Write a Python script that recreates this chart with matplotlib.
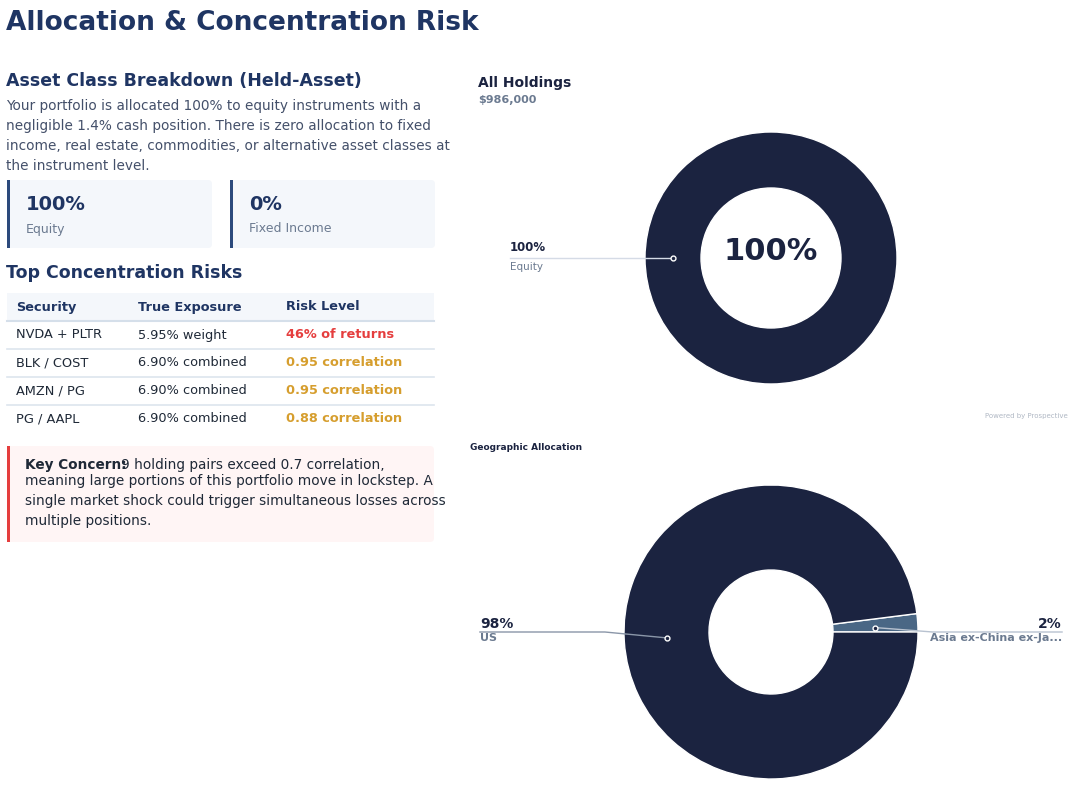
import matplotlib
matplotlib.use('agg')
import matplotlib.pyplot as plt
from matplotlib.patches import FancyBboxPatch, Rectangle

NAVY = '#1b2340'
TITLE = '#1f3563'
GREY = '#6b7a90'
TEXT = '#44506a'

cards = [('100%', 'Equity'), ('0%', 'Fixed Income')]
table_header = ['Security', 'True Exposure', 'Risk Level']
securities = ['NVDA + PLTR', 'BLK / COST', 'AMZN / PG', 'PG / AAPL']
exposures = ['5.95% weight', '6.90% combined', '6.90% combined', '6.90% combined']
risks = ['46% of returns', '0.95 correlation', '0.95 correlation', '0.88 correlation']
risk_colors = ['#e53e3e', '#d69e2e', '#d69e2e', '#d69e2e']
holdings_labels = ['Equity']
holdings_values = [100]
geo_labels = ['Asia ex-China ex-Ja...', 'US']
geo_values = [2, 98]
geo_colors = ['#4a6785', NAVY]

W, H = 1084, 785
fig = plt.figure(figsize=(W / 100, H / 100), dpi=100)
ax = fig.add_axes([0, 0, 1, 1])
ax.set_xlim(0, W)
ax.set_ylim(H, 0)
ax.axis('off')

ax.text(6, 23, 'Allocation & Concentration Risk', fontsize=19, weight='bold', color=TITLE, va='center')
ax.text(6, 81, 'Asset Class Breakdown (Held-Asset)', fontsize=12.5, weight='bold', color=TITLE, va='center')
para = ('Your portfolio is allocated 100% to equity instruments with a\n'
        'negligible 1.4% cash position. There is zero allocation to fixed\n'
        'income, real estate, commodities, or alternative asset classes at\n'
        'the instrument level.')
ax.text(6, 99, para, fontsize=9.8, color=TEXT, va='top', linespacing=1.55)

# metric cards
for i, (val, lab) in enumerate(cards):
    x0 = 7 + i * 223
    ax.add_patch(FancyBboxPatch((x0, 180), 205, 68, boxstyle='round,pad=0,rounding_size=4',
                                fc='#f4f7fb', ec='none'))
    ax.add_patch(Rectangle((x0, 180), 3, 68, fc='#2c4a7c', ec='none'))
    ax.text(x0 + 19, 204, val, fontsize=14, weight='bold', color=TITLE, va='center')
    ax.text(x0 + 19, 229, lab, fontsize=9, color=GREY, va='center')

ax.text(6, 273, 'Top Concentration Risks', fontsize=12.5, weight='bold', color=TITLE, va='center')

# table
colx = [16, 138, 286]
ax.add_patch(Rectangle((7, 293), 427, 28, fc='#f4f7fb', ec='none'))
ax.plot([7, 434], [321, 321], color='#d5dfea', lw=1.5)
for x, h in zip(colx, table_header):
    ax.text(x, 307, h, fontsize=9.3, weight='bold', color=TITLE, va='center')
for r in range(len(securities)):
    y = 335 + r * 28
    ax.text(colx[0], y, securities[r], fontsize=9.3, color='#1f2937', va='center')
    ax.text(colx[1], y, exposures[r], fontsize=9.3, color='#1f2937', va='center')
    ax.text(colx[2], y, risks[r], fontsize=9.3, weight='bold', color=risk_colors[r], va='center')
    if r < len(securities) - 1:
        ax.plot([7, 434], [y + 14, y + 14], color='#dde5ee', lw=1.2)

# key concern box
ax.add_patch(FancyBboxPatch((7, 446), 427, 96, boxstyle='round,pad=0,rounding_size=4',
                            fc='#fff5f5', ec='none'))
ax.add_patch(Rectangle((7, 446), 3, 96, fc='#e53e3e', ec='none'))
ax.text(25, 465, 'Key Concern:', fontsize=9.8, weight='bold', color='#1f2937', va='center')
ax.text(121, 465, '9 holding pairs exceed 0.7 correlation,', fontsize=9.8, color='#1f2937', va='center')
ax.text(25, 474, 'meaning large portions of this portfolio move in lockstep. A\n'
        'single market shock could trigger simultaneous losses across\n'
        'multiple positions.', fontsize=9.8, color='#1f2937', va='top', linespacing=1.55)

# right side headings
ax.text(478, 83, 'All Holdings', fontsize=10, weight='bold', color=NAVY, va='center')
ax.text(478, 100, '$986,000', fontsize=8, weight='bold', color=GREY, va='center')
ax.text(1068, 416, 'Powered by Prospective', fontsize=5, color='#b0b8c4', ha='right', va='center')
ax.text(470, 447, 'Geographic Allocation', fontsize=6.5, weight='bold', color=NAVY, va='center')


def donut_axes(cx, cy, r):
    half = r * 1.0
    return fig.add_axes([(cx - half) / W, 1 - (cy + half) / H, 2 * half / W, 2 * half / H])


# top donut
a1 = donut_axes(771, 258, 126)
a1.pie(holdings_values, colors=[NAVY], radius=1, startangle=90,
       wedgeprops=dict(width=(126 - 70) / 126, ec='white', lw=1))
a1.set_xlim(-1, 1); a1.set_ylim(-1, 1); a1.axis('off')
a1.text(0, 0.05, '100%', fontsize=22, weight='bold', color=NAVY, ha='center', va='center')
a1.plot([-0.78, -2.07], [0, 0], color='#d5dbe6', lw=1, clip_on=False)
a1.plot([-0.78], [0], 'o', ms=3.5, mfc=NAVY, mec='white', mew=1, clip_on=False)
a1.text(-2.07, 0.03, '100%', fontsize=8.5, weight='bold', color=NAVY, va='bottom', clip_on=False)
a1.text(-2.07, -0.03, holdings_labels[0], fontsize=7.5, color=GREY, va='top', clip_on=False)

# bottom donut
a2 = donut_axes(771, 632, 147)
a2.pie(geo_values, colors=geo_colors, radius=1, startangle=0, counterclock=True,
       wedgeprops=dict(width=(147 - 62) / 147, ec='white', lw=1))
a2.set_xlim(-1, 1); a2.set_ylim(-1, 1); a2.axis('off')
a2.plot([-0.71, -1.13, -1.98], [-0.04, 0.0, 0.0], color='#8a96a8', lw=1, clip_on=False)
a2.plot([0.71, 1.1, 1.98], [0.03, 0.0, 0.0], color='#b8c2d0', lw=1, clip_on=False)
for px, py in [(-0.71, -0.04), (0.71, 0.03)]:
    a2.plot([px], [py], 'o', ms=3.5, mfc=NAVY, mec='white', mew=1, clip_on=False)
a2.text(-1.98, 0.01, '98%', fontsize=10, weight='bold', color=NAVY, va='bottom', clip_on=False)
a2.text(-1.98, -0.01, geo_labels[1], fontsize=8, weight='bold', color=GREY, va='top', clip_on=False)
a2.text(1.98, 0.01, '2%', fontsize=10, weight='bold', color=NAVY, ha='right', va='bottom', clip_on=False)
a2.text(1.98, -0.01, geo_labels[0], fontsize=8, weight='bold', color=GREY, ha='right', va='top', clip_on=False)

fig.savefig('out.png', dpi=100)
